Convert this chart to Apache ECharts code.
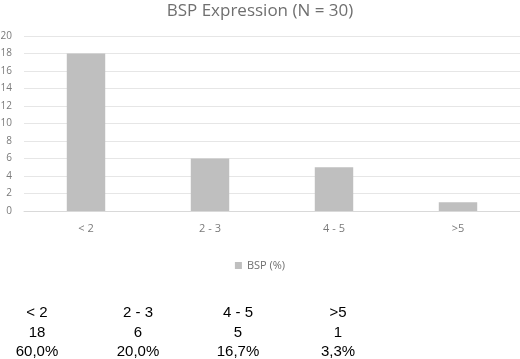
<!DOCTYPE html>
<html><head><meta charset="utf-8">
<script src="https://cdn.jsdelivr.net/npm/echarts@6/dist/echarts.min.js"></script>
<style>html,body{margin:0;padding:0;background:#fff}#c{width:520px;height:359px}</style>
</head><body><div id="c"></div>
<script>
const categories = ['< 2', '2 - 3', '4 - 5', '>5'];
const counts = [18, 6, 5, 1];
const percentLabels = ['60,0%', '20,0%', '16,7%', '3,3%'];
const yTicks = [0, 2, 4, 6, 8, 10, 12, 14, 16, 18, 20];

const chart = echarts.init(document.getElementById('c'), null, {renderer: 'canvas'});
const colX = [37, 138, 238, 338];
const rowY = [313, 333, 352];
const rows = [categories, counts.map(String), percentLabels];
const tableTexts = [];
rows.forEach((row, r) => row.forEach((t, i) => {
  tableTexts.push({type: 'text', x: colX[i], y: rowY[r], style: {text: t, fill: '#000', font: '15px "Liberation Sans", Arial, sans-serif', textAlign: 'center', textVerticalAlign: 'middle'}});
}));

const labelFont = 'Open Sans, sans-serif';
chart.setOption({
  animation: false,
  title: {text: 'BSP Expression (N = 30)', left: 'center', top: -2,
    textStyle: {color: '#6f6f6f', fontSize: 17, fontWeight: 'normal', fontFamily: labelFont}},
  legend: {data: ['BSP (%)'], left: 'center', top: 255, itemWidth: 7, itemHeight: 7, itemGap: 4,
    icon: 'rect', textStyle: {color: '#6f6f6f', fontSize: 11, fontFamily: labelFont}},
  grid: {left: 24, right: 0, top: 36, bottom: 148, containLabel: false, outerBoundsMode: 'none'},
  xAxis: {type: 'category', data: categories,
    axisLine: {lineStyle: {color: '#d9d9d9'}}, axisTick: {show: false},
    axisLabel: {color: '#7a7a7a', fontSize: 11, margin: 12, fontFamily: labelFont}},
  yAxis: {type: 'value', min: 0, max: 20, interval: 2,
    axisLine: {show: false}, axisTick: {show: false},
    splitLine: {lineStyle: {color: '#e6e6e6'}},
    axisLabel: {color: '#7a7a7a', fontSize: 10, margin: 12, fontFamily: labelFont}},
  series: [{name: 'BSP (%)', type: 'bar', data: counts, barWidth: '31%', itemStyle: {color: '#bfbfbf'}}],
  graphic: tableTexts
});
</script></body></html>
